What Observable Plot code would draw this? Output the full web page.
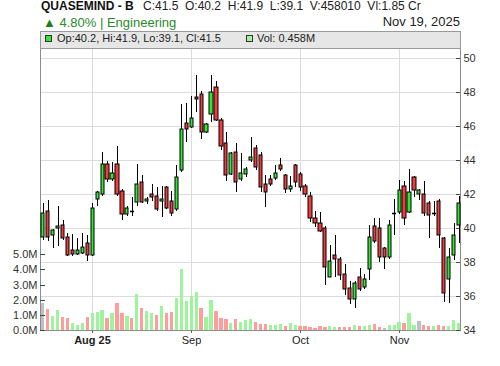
<!DOCTYPE html>
<html><head><meta charset="utf-8">
<script src="https://cdn.jsdelivr.net/npm/d3@7"></script>
<script src="https://cdn.jsdelivr.net/npm/@observablehq/plot@0.6"></script>
<style>
body{margin:0;background:#fff;font-family:"Liberation Sans",Arial,sans-serif;}
#wrap{position:relative;width:500px;height:366px;overflow:hidden;background:#fff;}
#wrap svg{position:absolute;left:0;top:0;}
.t{position:absolute;white-space:pre;line-height:1;}
.sq{position:absolute;width:7px;height:7px;box-sizing:border-box;border:1px solid #333;}
</style></head><body>
<div id="wrap"></div>
<script>
const symbol = "QUASEMIND - B";
const sector = "Engineering";
const dateLabel = "Nov 19, 2025";
const turnover = "1.85 Cr";
const open = [39.45,41.0,39.57,40.0,40.18,39.45,38.71,38.45,38.51,39.1,38.41,41.69,42.0,43.8,42.88,43.75,42.18,40.82,41.0,41.55,42.69,41.59,41.98,41.88,41.57,42.39,41.57,41.1,43.39,46.16,45.96,47.69,47.9,45.67,46.69,48.28,46.39,44.98,43.16,44.45,42.86,43.16,43.98,44.69,44.29,42.59,42.86,42.96,43.7,43.12,42.28,43.71,43.18,42.47,41.88,40.57,40.27,39.98,37.14,38.41,38.18,37.29,36.45,35.8,37.14,36.55,37.57,40.14,39.98,38.8,38.27,40.86,40.96,42.47,40.96,42.98,42.0,42.0,41.5,40.86,41.57,39.39,36.98,38.41,40.2];
const high = [41.5,41.65,39.95,41.3,40.47,39.7,39.65,39.4,39.73,39.6,41.49,42.2,44.5,43.95,43.9,44.85,42.3,41.3,41.84,43.8,43.15,41.8,42.57,42.43,42.47,42.5,42.18,43.69,47.33,47.39,47.78,49.0,48.05,46.2,49.0,48.67,46.5,45.67,44.5,45.02,44.39,43.6,45.37,44.88,44.45,43.12,43.1,43.7,44.1,43.2,43.06,43.8,43.3,42.6,42.14,41.02,40.96,40.1,39.0,39.59,38.31,37.88,36.9,36.9,37.63,37.3,40.18,40.57,40.57,38.9,40.47,41.7,42.82,42.75,43.45,43.05,42.3,42.78,41.6,41.6,41.7,39.5,38.8,40.27,41.9];
const low = [39.3,39.25,38.8,38.94,39.3,38.33,38.35,38.4,38.45,38.08,38.35,41.29,41.9,42.7,42.75,41.9,40.47,40.7,40.7,41.3,41.45,41.4,41.6,41.0,40.67,41.1,40.7,41.0,43.3,45.08,45.9,46.84,45.24,45.6,46.25,46.3,44.59,42.78,43.1,42.1,42.8,43.0,43.9,43.4,42.14,41.25,42.45,42.85,43.35,42.08,42.14,42.43,42.2,41.84,40.37,40.08,39.75,36.65,37.1,37.14,36.94,36.06,35.53,35.27,36.3,36.4,36.94,39.1,38.02,37.57,38.2,39.6,40.8,40.18,40.9,41.85,41.65,40.7,39.39,40.7,38.85,35.67,35.57,38.1,39.1];
const close = [40.86,39.45,39.88,40.1,39.39,38.41,38.45,38.7,38.86,38.41,41.16,42.1,43.8,42.88,43.27,42.0,40.82,41.16,41.0,42.59,41.55,41.69,41.8,41.12,41.69,41.16,40.86,42.98,45.82,45.86,46.45,47.57,45.67,46.1,47.98,46.39,44.82,43.12,44.39,42.69,43.27,43.47,44.16,43.57,42.43,42.14,42.57,43.27,43.45,42.28,42.47,42.72,42.39,41.98,40.57,40.27,39.84,37.69,38.08,38.16,37.24,36.41,35.8,36.78,36.41,37.0,39.45,39.25,38.27,38.27,40.16,40.86,42.27,40.57,42.14,42.27,42.27,40.86,40.75,40.86,39.57,36.16,38.27,39.6,41.5];
// volume in millions
const volume = [1.8,1.42,0.9,1.35,0.83,0.76,0.43,0.36,0.43,0.83,1.14,1.22,1.35,0.76,1.14,1.8,1.14,0.9,0.76,2.41,1.47,1.27,1.14,1.02,1.6,1.14,1.2,2.14,4.04,1.93,2.26,2.53,1.47,0.88,1.99,1.27,0.81,0.74,0.48,0.74,0.55,0.64,0.74,0.55,0.4,0.38,0.33,0.33,0.4,0.26,0.46,0.33,0.29,0.29,0.2,0.13,0.26,0.18,0.26,0.22,0.22,0.22,0.2,0.33,0.26,0.26,0.33,0.4,0.18,0.13,0.33,0.33,0.55,0.46,1.14,0.33,0.59,0.33,0.29,0.26,0.33,0.29,0.26,0.66,0.45801];
const monthTicks = [10, 30, 52, 72];
const monthLabels = ["Aug 25", "Sep", "Oct", "Nov"];
const priceTicks = [34, 36, 38, 40, 42, 44, 46, 48, 50];
const volTicks = [0, 1, 2, 3, 4, 5];

const data = open.map((o, i) => ({
  i, open: o, high: high[i], low: low[i], close: close[i], volume: volume[i],
  dir: i === 0 ? 0 : Math.sign(close[i] - close[i - 1])
}));

const GREEN = "#33e633", RED = "#f03c3c";
const VGREEN = "#9cf59c", VRED = "#ff9c9c", VGRAY = "#c0c0c0";
const font = "'Liberation Sans', Arial, sans-serif";
const common = {
  width: 500, height: 366,
  marginLeft: 40, marginRight: 40, marginTop: 31, marginBottom: 36,
  x: {type: "linear", domain: [-0.55, 84.3], round: true},
  style: {background: "transparent", fontFamily: font, fontSize: "11px", overflow: "visible"}
};
const priceY = {domain: [34, 51.6], round: true};
const labelOf = d => monthLabels[monthTicks.indexOf(d)];

const base = Plot.plot({
  ...common,
  x: {...common.x},
  y: {...priceY},
  marks: [
    Plot.ruleY(priceTicks.filter(d => d > 34), {y: d => d, stroke: "#dcdcdc"}),
    Plot.ruleX(monthTicks, {x: d => d, stroke: "#dcdcdc"}),
    Plot.frame({stroke: "#8c8c8c"}),
    Plot.ruleY(priceTicks, {y: d => d, stroke: "#444", insetLeft: 416}),
    Plot.axisY(priceTicks, {anchor: "right", label: null, tickSize: 0, tickPadding: 3, tickFormat: d => String(d), fontSize: 11, fill: "#333"}),
    Plot.axisX(monthTicks.slice(0, 1), {anchor: "bottom", label: null, tickSize: 3, tickPadding: 3, stroke: "#666", tickFormat: labelOf, fontSize: 11, fontWeight: "bold", fill: "#222"}),
    Plot.axisX(monthTicks.slice(1), {anchor: "bottom", label: null, tickSize: 3, tickPadding: 3, stroke: "#666", tickFormat: labelOf, fontSize: 11, fill: "#222"})
  ]
});

const barOpts = {x1: d => d.i - 0.33, x2: d => d.i + 0.33, y1: 0, y2: "volume"};
const vol = Plot.plot({
  ...common,
  x: {...common.x, axis: null},
  y: {domain: [0, 19.75], round: true, axis: null, label: null},
  marks: [
    Plot.rect(data.filter(d => d.dir > 0), {...barOpts, fill: VGREEN}),
    Plot.rect(data.filter(d => d.dir < 0), {...barOpts, fill: VRED}),
    Plot.rect(data.filter(d => d.dir === 0), {...barOpts, fill: VGRAY}),
    Plot.ruleY(volTicks, {y: d => d, stroke: "#444", insetRight: 415}),
    Plot.axisY(volTicks, {anchor: "left", label: null, tickSize: 0, tickPadding: 3, tickFormat: d => d.toFixed(1) + "M", fontSize: 11, fill: "#333"})
  ]
});

const bodyOpts = {x1: d => d.i - 0.32, x2: d => d.i + 0.32, y1: "open", y2: "close", stroke: "#000", strokeWidth: 1};
const candles = Plot.plot({
  ...common,
  x: {...common.x, axis: null},
  y: {...priceY, axis: null},
  marks: [
    Plot.ruleX(data, {x: "i", y1: "low", y2: "high", stroke: "#000", strokeWidth: 1}),
    Plot.rect(data.filter(d => d.close > d.open), {...bodyOpts, fill: GREEN}),
    Plot.rect(data.filter(d => d.close < d.open), {...bodyOpts, fill: RED}),
    Plot.ruleY(data.filter(d => d.close === d.open), {y: "open", x1: d => d.i - 0.4, x2: d => d.i + 0.4, stroke: "#000", strokeWidth: 1.6})
  ]
});

const wrap = document.getElementById("wrap");
wrap.append(base, vol, candles);

const n = close.length - 1;
const pct = ((close[n] / close[n - 1] - 1) * 100).toFixed(2);
const volShares = Math.round(volume[n] * 1e6);
function addText(html, style) {
  const d = document.createElement("div");
  d.className = "t";
  d.setAttribute("style", style);
  d.innerHTML = html;
  wrap.append(d);
  return d;
}
addText(`<b>${symbol}</b>`, "left:41px;top:0px;font-size:12px;color:#111;");
addText(`C:${close[n]}  O:${open[n]}  H:${high[n]}  L:${low[n]}  V:${volShares}  Vl:${turnover}`, "left:143px;top:0px;font-size:12px;color:#222;");
addText(`<span style="color:#1e7b1e">▲</span> ${pct}% | ${sector}`, "left:43px;top:15.5px;font-size:13px;color:#2a8a2a;");
addText(dateLabel, "right:40px;top:15px;font-size:13px;color:#222;");

const band = document.createElement("div");
band.setAttribute("style", "position:absolute;left:40px;top:31px;width:421px;height:18px;box-sizing:border-box;background:#e6e6e6;border:1px solid #999;");
wrap.append(band);
const sq1 = document.createElement("div"); sq1.className = "sq";
sq1.style.cssText = `left:45px;top:35px;background:${GREEN};`; wrap.append(sq1);
addText(`Op:${open[n]}, Hi:${high[n]}, Lo:${low[n]}, Cl:${close[n]}`, "left:57px;top:33px;font-size:11px;color:#222;");
const sq2 = document.createElement("div"); sq2.className = "sq";
sq2.style.cssText = `left:246px;top:35px;background:${VGREEN};`; wrap.append(sq2);
addText(`Vol: ${volume[n].toFixed(3)}M`, "left:257px;top:33px;font-size:11px;color:#222;");
</script>
</body></html>
